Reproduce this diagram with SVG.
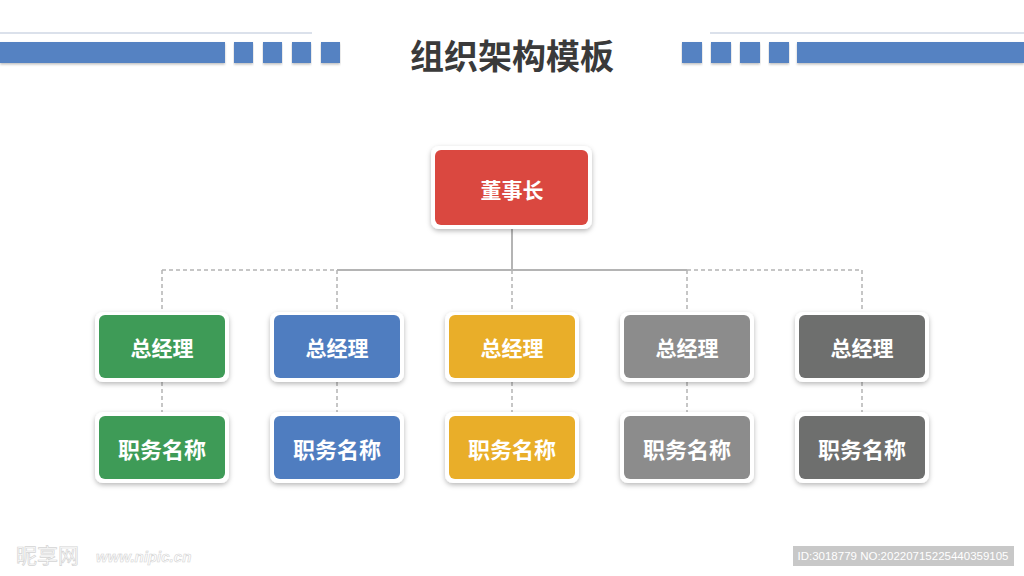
<svg xmlns="http://www.w3.org/2000/svg" width="1024" height="576" viewBox="0 0 1024 576">
  <defs>
    <filter id="sh" x="-20%" y="-20%" width="140%" height="150%">
      <feDropShadow dx="0" dy="2" stdDeviation="2.5" flood-color="#000" flood-opacity="0.28"/>
    </filter>
    <filter id="bsh" x="-5%" y="-30%" width="110%" height="180%">
      <feDropShadow dx="0" dy="1.5" stdDeviation="1.2" flood-color="#000" flood-opacity="0.25"/>
    </filter>
  </defs>
  <style>
    .bar { fill: #5582C2; filter: url(#bsh); }
    .frame { fill: #ffffff; filter: url(#sh); }
    .lbl { font-family: "Noto Sans CJK SC", "Noto Sans", sans-serif; font-weight: bold; fill: #ffffff; text-anchor: middle; dominant-baseline: central; }
    .solid { stroke: #b4b4b4; stroke-width: 2; fill: none; }
    .dash { stroke: #b4b4b4; stroke-width: 1.5; fill: none; stroke-dasharray: 4 3; }
  </style>
  <rect width="1024" height="576" fill="#ffffff"/>

  <g id="header">
    <line x1="0" y1="33" x2="312" y2="33" stroke="#b7c4d8" stroke-width="1.2"/>
    <line x1="710" y1="33" x2="1024" y2="33" stroke="#b7c4d8" stroke-width="1.2"/>
    <rect class="bar" x="0" y="42" width="225" height="21"/>
    <rect class="bar" x="234" y="42" width="19" height="21"/>
    <rect class="bar" x="263" y="42" width="19" height="21"/>
    <rect class="bar" x="292" y="42" width="19" height="21"/>
    <rect class="bar" x="321" y="42" width="19" height="21"/>
    <rect class="bar" x="682" y="42" width="20" height="21"/>
    <rect class="bar" x="711" y="42" width="20" height="21"/>
    <rect class="bar" x="740" y="42" width="20" height="21"/>
    <rect class="bar" x="769" y="42" width="20" height="21"/>
    <rect class="bar" x="797" y="42" width="227" height="21"/>
    <text x="512" y="54" font-family="Noto Sans CJK SC, sans-serif" font-weight="bold" font-size="34" fill="#3a3a3a" text-anchor="middle" dominant-baseline="central">组织架构模板</text>
  </g>

  <g id="connectors">
    <line class="solid" x1="512" y1="226" x2="512" y2="270"/>
    <line class="solid" x1="337" y1="270" x2="687" y2="270"/>
    <line class="dash" x1="162" y1="270" x2="337" y2="270"/>
    <line class="dash" x1="687" y1="270" x2="862" y2="270"/>
    <line class="dash" x1="162" y1="270" x2="162" y2="313"/>
    <line class="dash" x1="337" y1="270" x2="337" y2="313"/>
    <line class="dash" x1="512" y1="270" x2="512" y2="313"/>
    <line class="dash" x1="687" y1="270" x2="687" y2="313"/>
    <line class="dash" x1="862" y1="270" x2="862" y2="313"/>
    <line class="dash" x1="162" y1="382" x2="162" y2="414"/>
    <line class="dash" x1="337" y1="382" x2="337" y2="414"/>
    <line class="dash" x1="512" y1="382" x2="512" y2="414"/>
    <line class="dash" x1="687" y1="382" x2="687" y2="414"/>
    <line class="dash" x1="862" y1="382" x2="862" y2="414"/>
  </g>

  <g id="chairman">
    <rect class="frame" x="431" y="146" width="161" height="83" rx="8"/>
    <rect x="435" y="150" width="153" height="75" rx="6" fill="#DA4840"/>
    <text class="lbl" x="512" y="189" font-size="21">董事长</text>
  </g>

  <g id="gm1">
    <rect class="frame" x="95" y="312" width="134" height="70" rx="8"/>
    <rect x="99" y="315" width="126" height="63" rx="6" fill="#3E9B57"/>
    <text class="lbl" x="162" y="347" font-size="21">总经理</text>
  </g>
  <g id="gm2">
    <rect class="frame" x="270" y="312" width="134" height="70" rx="8"/>
    <rect x="274" y="315" width="126" height="63" rx="6" fill="#4F7DC0"/>
    <text class="lbl" x="337" y="347" font-size="21">总经理</text>
  </g>
  <g id="gm3">
    <rect class="frame" x="445" y="312" width="134" height="70" rx="8"/>
    <rect x="449" y="315" width="126" height="63" rx="6" fill="#E9AE29"/>
    <text class="lbl" x="512" y="347" font-size="21">总经理</text>
  </g>
  <g id="gm4">
    <rect class="frame" x="620" y="312" width="134" height="70" rx="8"/>
    <rect x="624" y="315" width="126" height="63" rx="6" fill="#8C8C8C"/>
    <text class="lbl" x="687" y="347" font-size="21">总经理</text>
  </g>
  <g id="gm5">
    <rect class="frame" x="795" y="312" width="134" height="70" rx="8"/>
    <rect x="799" y="315" width="126" height="63" rx="6" fill="#6E6F6E"/>
    <text class="lbl" x="862" y="347" font-size="21">总经理</text>
  </g>

  <g id="pos1">
    <rect class="frame" x="95" y="412" width="134" height="71" rx="8"/>
    <rect x="99" y="416" width="126" height="63" rx="6" fill="#3E9B57"/>
    <text class="lbl" x="162" y="448" font-size="22">职务名称</text>
  </g>
  <g id="pos2">
    <rect class="frame" x="270" y="412" width="134" height="71" rx="8"/>
    <rect x="274" y="416" width="126" height="63" rx="6" fill="#4F7DC0"/>
    <text class="lbl" x="337" y="448" font-size="22">职务名称</text>
  </g>
  <g id="pos3">
    <rect class="frame" x="445" y="412" width="134" height="71" rx="8"/>
    <rect x="449" y="416" width="126" height="63" rx="6" fill="#E9AE29"/>
    <text class="lbl" x="512" y="448" font-size="22">职务名称</text>
  </g>
  <g id="pos4">
    <rect class="frame" x="620" y="412" width="134" height="71" rx="8"/>
    <rect x="624" y="416" width="126" height="63" rx="6" fill="#8C8C8C"/>
    <text class="lbl" x="687" y="448" font-size="22">职务名称</text>
  </g>
  <g id="pos5">
    <rect class="frame" x="795" y="412" width="134" height="71" rx="8"/>
    <rect x="799" y="416" width="126" height="63" rx="6" fill="#6E6F6E"/>
    <text class="lbl" x="862" y="448" font-size="22">职务名称</text>
  </g>

  <g id="watermark">
    <text x="16" y="563" font-family="Noto Sans CJK SC, sans-serif" font-size="21" fill="#ffffff" stroke="#d4d4d4" stroke-width="0.7">昵享网</text>
    <text x="96" y="562" font-family="Liberation Sans, sans-serif" font-weight="bold" font-style="italic" font-size="15" fill="#ffffff" stroke="#d4d4d4" stroke-width="0.6">www.nipic.cn</text>
    <rect x="793" y="546" width="221" height="20" fill="#c8c8c8"/>
    <text x="903" y="556" font-family="Liberation Sans, sans-serif" font-size="11.5" fill="#ffffff" text-anchor="middle" dominant-baseline="central">ID:3018779 NO:20220715225440359105</text>
  </g>
</svg>
